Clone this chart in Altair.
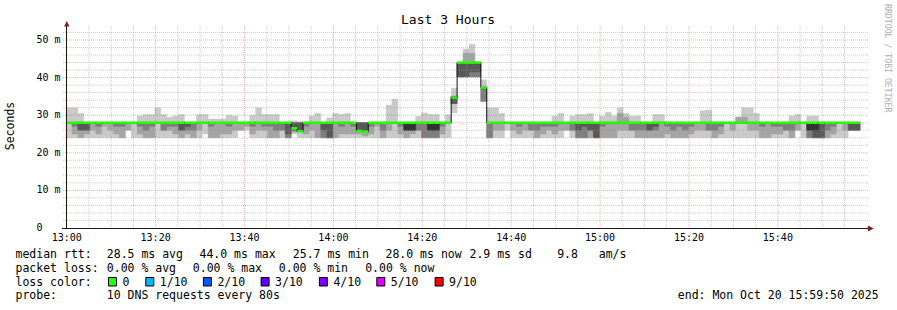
import altair as alt
import pandas as pd

FONT = "DejaVu Sans Mono"

# ---------------- data (ms) ----------------
# 10 sorted ping times per 80 s step, grouped by 20-minute block
seg_1300 = [
    (24, 28, 28, 28, 28, 28, 28, 28, 28, 32), (24, 25, 27, 28, 28, 28, 28, 28, 28, 32),
    (24, 24, 26, 26, 28, 28, 28, 28, 28, 30.5), (24, 25, 26, 26, 28, 28, 28, 28, 28, 28),
    (24, 26, 28, 28, 28, 28, 28, 28, 28, 28), (24, 25, 27, 28, 28, 28, 28, 28, 28, 28),
    (24, 27, 28, 28, 28, 28, 28, 28, 28, 28), (24, 26, 28, 28, 28, 28, 28, 28, 28, 28),
    (24, 25, 27, 28, 28, 28, 28, 28, 28, 28), (24, 24, 27, 28, 28, 28, 28, 28, 28, 28),
    (26, 26, 28, 28, 28, 28, 28, 28, 28, 28), (24, 28, 28, 28, 28, 28, 28, 28, 28, 28),
    (24, 25, 27, 28, 28, 28, 28, 28, 28, 29.8), (24, 24, 26, 28, 28, 28, 28, 28, 28, 30.2),
    (24, 24, 27, 28, 28, 28, 28, 28, 28, 30.2),
]
seg_1320 = [
    (24, 28, 28, 28, 28, 28, 28, 28, 28, 32), (24, 26, 26, 28, 28, 28, 28, 28, 28, 30.2),
    (24, 26, 27, 28, 28, 28, 28, 28, 28, 29.5), (24, 25, 27, 28, 28, 28, 28, 28, 28, 29.8),
    (24, 24, 26, 26, 28, 28, 28, 28, 28, 30.2), (24, 25, 26, 27, 28, 28, 28, 28, 28, 28),
    (24, 24, 26, 28, 28, 28, 28, 28, 28, 28), (24, 26, 28, 28, 28, 28, 28, 28, 28, 30.2),
    (25, 28, 28, 28, 28, 28, 28, 28, 28, 30.2), (24, 24, 27, 28, 28, 28, 28, 28, 28, 29),
    (24, 24, 28, 28, 28, 28, 28, 28, 28, 29), (24, 25, 28, 28, 28, 28, 28, 28, 28, 29),
    (24, 25, 27, 28, 28, 28, 28, 28, 28, 30), (24, 26, 28, 28, 28, 28, 28, 28, 28, 29.8),
    (26, 26, 28, 28, 28, 28, 28, 28, 28, 28),
]
seg_1340 = [
    (26, 27, 28, 28, 28, 28, 28, 28, 28, 28), (24, 25, 27, 28, 28, 28, 28, 28, 28, 30),
    (24, 26, 28, 28, 28, 28, 28, 28, 28, 32), (24, 26, 27, 28, 28, 28, 28, 28, 28, 30.2),
    (24, 24, 27, 28, 28, 28, 28, 28, 28, 30.2), (24, 24, 26, 28, 28, 28, 28, 28, 28, 30.2),
    (24, 26, 26, 28, 28, 28, 28, 28, 28, 28), (24, 24, 24, 25, 28, 28, 28, 28, 28, 28),
    (25, 25.5, 26, 26, 26.5, 26.5, 28, 28, 28, 28.5), (24, 25.7, 25.7, 25.7, 25.7, 25.7, 28, 28, 28, 28.3),
    (24, 25, 27, 28, 28, 28, 28, 28, 28, 28), (24, 26, 28, 28, 28, 28, 28, 28, 28, 29.8),
    (24, 24, 28, 28, 28, 28, 28, 28, 28, 30.5), (24, 24, 24, 26, 28, 28, 28, 28, 28, 28),
    (24, 24, 24, 24, 28, 28, 28, 28, 28, 29.3),
]
seg_1400 = [
    (24, 24, 28, 28, 28, 28, 28, 28, 28, 30.5), (24, 25, 27, 28, 28, 28, 28, 28, 28, 30.2),
    (24, 25, 28, 28, 28, 28, 28, 28, 28, 30.5), (24, 25, 27, 28, 28, 28, 28, 28, 28, 28),
    (24, 25, 25.8, 25.8, 25.8, 25.8, 28, 28, 28, 28), (24, 24.5, 25.6, 25.6, 25.6, 25.6, 28, 28, 28, 28),
    (24, 25, 27, 28, 28, 28, 28, 28, 28, 28), (24, 27, 28, 28, 28, 28, 28, 28, 28, 28),
    (24, 24, 26, 28, 28, 28, 28, 28, 28, 28), (24, 26, 28, 28, 28, 28, 28, 28, 28, 32.7),
    (24, 28, 28, 28, 28, 28, 28, 28, 28, 34.3), (24, 25, 27, 28, 28, 28, 28, 28, 28, 28),
    (24, 24, 26, 26, 26, 28, 28, 28, 28, 28), (24, 25, 26, 26, 26, 28, 28, 28, 28, 28),
    (24, 26, 26, 28, 28, 28, 28, 28, 28, 29.7),
]
seg_1420 = [
    (24, 24, 24, 28, 28, 28, 28, 28, 28, 30.6), (24, 24, 24, 26, 26, 28, 28, 28, 28, 30.2),
    (24, 24, 24, 26, 26, 28, 28, 28, 28, 30.2), (24, 25, 27, 28, 28, 28, 28, 28, 28, 28),
    (24, 28, 28, 28, 28, 28, 28, 28, 28, 30.1), (30.6, 33.1, 33.1, 33.1, 34.5, 34.9, 35, 35, 35, 37.2),
    (40.2, 40.2, 40.2, 40.2, 44, 44, 44, 44, 44, 44), (40.2, 40.2, 40.2, 40.2, 44, 44, 44, 44, 46.5, 47.6),
    (40.2, 40.2, 40.2, 41.5, 44, 44, 44, 44, 46.5, 48.9), (40.2, 40.2, 40.2, 41.5, 44, 44, 44, 44, 44, 44),
    (33.7, 33.7, 33.7, 37.4, 37.4, 37.4, 37.4, 37.4, 37.4, 39.4), (24, 24, 24, 28, 28, 28, 28, 28, 28, 32),
    (24, 26, 28, 28, 28, 28, 28, 28, 28, 32), (24, 26, 28, 28, 28, 28, 28, 28, 28, 30.5),
    (26, 28, 28, 28, 28, 28, 28, 28, 28, 28),
]
seg_1440 = [
    (24, 26, 28, 28, 28, 28, 28, 28, 28, 28), (24, 25, 27, 28, 28, 28, 28, 28, 28, 28),
    (24, 26, 28, 28, 28, 28, 28, 28, 28, 28), (24, 26, 26, 28, 28, 28, 28, 28, 28, 28),
    (24, 24, 26, 28, 28, 28, 28, 28, 28, 28), (24, 25, 27, 28, 28, 28, 28, 28, 28, 28),
    (24, 26, 27, 28, 28, 28, 28, 28, 28, 28), (24, 25, 27, 28, 28, 28, 28, 28, 28, 29.8),
    (24, 26, 28, 28, 28, 28, 28, 28, 28, 30.5), (26, 26, 28, 28, 28, 28, 28, 28, 28, 28),
    (24, 26, 26, 28, 28, 28, 28, 28, 28, 29.8), (24, 24, 24, 26, 28, 28, 28, 28, 28, 30.2),
    (24, 24, 24, 27, 28, 28, 28, 28, 28, 30.2), (24, 24, 26, 26, 28, 28, 28, 28, 28, 30.5),
    (24, 24, 24, 24, 28, 28, 28, 28, 28, 28),
]
seg_1500 = [
    (24, 24, 27, 28, 28, 28, 28, 28, 28, 29.8), (24, 24, 28, 28, 28, 28, 28, 28, 28, 30.8),
    (24, 24, 28, 28, 28, 28, 28, 28, 28, 29.8), (24, 26, 28, 28, 28, 28, 28, 28, 30.5, 32),
    (24, 26, 28, 28, 28, 28, 28, 28, 29.5, 30.5), (24, 26, 26, 28, 28, 28, 28, 28, 28, 29.8),
    (24, 24, 26, 28, 28, 28, 28, 28, 28, 29.8), (24, 24, 26, 28, 28, 28, 28, 28, 28, 28),
    (24, 24, 26, 26, 28, 28, 28, 28, 28, 28), (24, 24, 26, 27, 28, 28, 28, 28, 28, 30.2),
    (24, 24, 28, 28, 28, 28, 28, 28, 28, 30.2), (24, 25, 27, 28, 28, 28, 28, 28, 28, 28),
    (24, 24, 26, 28, 28, 28, 28, 28, 28, 28), (24, 24, 27, 28, 28, 28, 28, 28, 28, 28),
    (24, 24, 26, 28, 28, 28, 28, 28, 28, 28),
]
seg_1520 = [
    (24, 25, 27, 28, 28, 28, 28, 28, 28, 28), (24, 26, 28, 28, 28, 28, 28, 28, 28, 28),
    (24, 26, 28, 28, 28, 28, 28, 28, 28, 31.2), (24, 26, 26, 28, 28, 28, 28, 28, 28, 31.4),
    (24, 24, 26, 28, 28, 28, 28, 28, 28, 28), (24, 25, 27, 28, 28, 28, 28, 28, 28, 28),
    (24, 28, 28, 28, 28, 28, 28, 28, 28, 28), (24, 26, 28, 28, 28, 28, 28, 28, 28, 28),
    (24, 28, 28, 28, 28, 28, 28, 28, 29.5, 29.5), (24, 28, 28, 28, 28, 28, 28, 28, 29.5, 32),
    (24, 26, 28, 28, 28, 28, 28, 28, 28, 32), (24, 26, 28, 28, 28, 28, 28, 28, 28, 30.5),
    (24, 24, 27, 28, 28, 28, 28, 28, 28, 28), (24, 24, 28, 28, 28, 28, 28, 28, 28, 28),
    (24, 25, 27, 28, 28, 28, 28, 28, 28, 28),
]
seg_1540 = [
    (24, 25, 27, 28, 28, 28, 28, 28, 28, 28), (24, 26, 26, 28, 28, 28, 28, 28, 28, 28),
    (24, 24, 26, 28, 28, 28, 28, 28, 28, 29.8), (26, 26, 28, 28, 28, 28, 28, 28, 28, 30.2),
    (24, 28, 28, 28, 28, 28, 28, 28, 28, 28), (24, 24, 24, 26, 26, 28, 28, 28, 28, 29.8),
    (24, 24, 24, 24, 26, 28, 28, 28, 28, 29.8), (24, 24, 24, 24, 28, 28, 28, 28, 28, 28),
    (24, 24, 26, 28, 28, 28, 28, 28, 28, 28), (24, 25, 27, 28, 28, 28, 28, 28, 28, 28),
    (24, 28, 28, 28, 28, 28, 28, 28, 28, 28), (24, 26, 28, 28, 28, 28, 28, 28, 28, 28),
    (26, 26, 26, 26, 28, 28, 28, 28, 28, 28), (26, 26, 26, 26, 28, 28, 28, 28, 28, 28),
]

# median rtt per step (ms)
med_1300 = [28, 28, 28, 28, 28, 28, 28, 28, 28, 28, 28, 28, 28, 28, 28]
med_1320 = [28, 28, 28, 28, 28, 28, 28, 28, 28, 28, 28, 28, 28, 28, 28]
med_1340 = [28, 28, 28, 28, 28, 28, 28, 28, 26.5, 25.7, 28, 28, 28, 28, 28]
med_1400 = [28, 28, 28, 28, 25.8, 25.6, 28, 28, 28, 28, 28, 28, 28, 28, 28]
med_1420 = [28, 28, 28, 28, 28, 34.7, 44.0, 44.0, 44.0, 44.0, 37.4, 28, 28, 28, 28]
med_1440 = [28, 28, 28, 28, 28, 28, 28, 28, 28, 28, 28, 28, 28, 28, 28]
med_1500 = [28, 28, 28, 28, 28, 28, 28, 28, 28, 28, 28, 28, 28, 28, 28]
med_1520 = [28, 28, 28, 28, 28, 28, 28, 28, 28, 28, 28, 28, 28, 28, 28]
med_1540 = [28, 28, 28, 28, 28, 28, 28, 28, 28, 28, 28, 28, 28, 28]

x_tick_values = [0, 20, 40, 60, 80, 100, 120, 140, 160]
x_tick_labels = ["13:00", "13:20", "13:40", "14:00", "14:20", "14:40", "15:00", "15:20", "15:40"]
y_tick_values = [0, 10, 20, 30, 40, 50]
y_tick_labels = ["0", "10 m", "20 m", "30 m", "40 m", "50 m"]

smoke_greys = ["#cacaca", "#a4a4a4", "#7e7e7e", "#585858", "#323232"]
loss_colors = ["#26ff00", "#00b8ff", "#0059ff", "#5e00ff", "#7e00ff", "#dd00ff", "#ff0000"]
loss_labels = ["0", "1/10", "2/10", "3/10", "4/10", "5/10", "9/10"]

rtt_line = [("median rtt:", 16), ("28.5 ms avg", 107.3), ("44.0 ms max", 200), ("25.7 ms min", 293.3),
            ("28.0 ms now", 386), ("2.9 ms sd", 470), ("9.8   am/s", 557.7)]
loss_line = [("packet loss:", 16), ("0.00 % avg", 107.3), ("0.00 % max", 193.3),
             ("0.00 % min", 279.3), ("0.00 % now", 365.7)]
probe_line = [("probe:", 16), ("10 DNS requests every 80s", 107.3),
              ("end: Mon Oct 20 15:59:50 2025", 678.3)]

# ---------------- layout ----------------
W, H = 800, 200
PL, PT = 66, 28
STEP = 80 / 60.0            # minutes per step
T0 = -10 / 60.0             # 12:59:50 relative to 13:00
T1 = T0 + 180
YMAX = 53.19

pings = seg_1300 + seg_1320 + seg_1340 + seg_1400 + seg_1420 + seg_1440 + seg_1500 + seg_1520 + seg_1540
median = med_1300 + med_1320 + med_1340 + med_1400 + med_1420 + med_1440 + med_1500 + med_1520 + med_1540

rows = []
for i, p in enumerate(pings):
    a = T0 + i * STEP
    for k in range(5):
        rows.append({"t0": a, "t1": a + STEP, "band": k, "lo": p[k], "hi": p[9 - k]})
smoke_df = pd.DataFrame(rows)

med_df = pd.DataFrame({"t0": [T0 + i * STEP for i in range(len(median))],
                       "t1": [T0 + (i + 1) * STEP for i in range(len(median))],
                       "m": median})
step_df = pd.DataFrame({"t": list(med_df["t0"]) + [med_df["t1"].iloc[-1]],
                        "m": median + [median[-1]]})

xs = alt.Scale(domain=[T0, T1], nice=False, zero=False)
ys = alt.Scale(domain=[0, YMAX], nice=False, zero=False)

layers = []
for k in range(5):
    layers.append(
        alt.Chart(smoke_df).transform_filter(
            (alt.datum.band == k) & (alt.datum.hi > alt.datum.lo)
        ).mark_rect(color=smoke_greys[k], stroke=smoke_greys[k], strokeWidth=0.4).encode(
            x=alt.X("t0:Q", scale=xs, axis=None), x2="t1:Q",
            y=alt.Y("lo:Q", scale=ys, axis=None), y2="hi:Q")
    )

# grid
minor_y = [v for v in range(2, 53, 2) if v % 10]
major_y = [10, 20, 30, 40, 50]
minor_x = [v for v in range(5, 180, 5) if v % 20]
major_x = [0, 20, 40, 60, 80, 100, 120, 140, 160]
GRID = "#9a9a9a"
MGRID = "#e05050"
layers.append(alt.Chart(pd.DataFrame({"v": minor_y})).mark_rule(
    color=GRID, strokeDash=[1, 1], strokeWidth=1, opacity=0.5).encode(
    y=alt.Y("v:Q", scale=ys, axis=None), x=alt.value(-3), x2=alt.value(W + 2)))
layers.append(alt.Chart(pd.DataFrame({"v": minor_x})).mark_rule(
    color=GRID, strokeDash=[1, 1], strokeWidth=1, opacity=0.5).encode(
    x=alt.X("v:Q", scale=xs, axis=None), y=alt.value(-2), y2=alt.value(H)))
layers.append(alt.Chart(pd.DataFrame({"v": major_y})).mark_rule(
    color=MGRID, strokeDash=[1, 1], strokeWidth=1, opacity=0.45).encode(
    y=alt.Y("v:Q", scale=ys, axis=None), x=alt.value(-3), x2=alt.value(W + 2)))
layers.append(alt.Chart(pd.DataFrame({"v": major_x})).mark_rule(
    color=MGRID, strokeDash=[1, 1], strokeWidth=1, opacity=0.45).encode(
    x=alt.X("v:Q", scale=xs, axis=None), y=alt.value(-2), y2=alt.value(H)))

# median: dark step line + loss-coloured bar
layers.append(alt.Chart(step_df).mark_line(interpolate="step-after", color="#111111", strokeWidth=1).encode(
    x=alt.X("t:Q", scale=xs, axis=None), y=alt.Y("m:Q", scale=ys, axis=None)))
layers.append(alt.Chart(med_df).mark_rect(color=loss_colors[0], yOffset=-1.3, y2Offset=1.3).encode(
    x=alt.X("t0:Q", scale=xs, axis=None), x2="t1:Q",
    y=alt.Y("m:Q", scale=ys, axis=None), y2="m:Q"))

one = pd.DataFrame({"a": [0]})
# axis lines
layers.append(alt.Chart(one).mark_rule(color="#1a1a1a", strokeWidth=1).encode(
    x=alt.value(-4), x2=alt.value(W + 2), y=alt.value(H + 0.5)))
layers.append(alt.Chart(one).mark_rule(color="#2a1414", strokeWidth=1).encode(
    x=alt.value(0.5), y=alt.value(-2), y2=alt.value(H + 1)))
# arrows
layers.append(alt.Chart(one).mark_point(shape="M-1,-1L1,0L-1,1Z", filled=True, size=36,
                                        color="#7f1f1f", opacity=1).encode(
    x=alt.value(870.8 - PL), y=alt.value(228.5 - PT)))
layers.append(alt.Chart(one).mark_point(shape="M-1,1L0,-1L1,1Z", filled=True, size=30,
                                        color="#7f1f1f", opacity=1).encode(
    x=alt.value(66.8 - PL), y=alt.value(23.8 - PT)))

# tick labels, positioned through the scales; y labels laid out in a fixed 4-char column
y_label_text = [(lab if " " in lab else " " + lab).replace(" ", "\u00a0") for lab in y_tick_labels]
layers.append(alt.Chart(pd.DataFrame({"v": x_tick_values, "lab": x_tick_labels})).mark_text(
    font=FONT, fontSize=10, align="center", baseline="alphabetic", color="#000").encode(
    x=alt.X("v:Q", scale=xs, axis=None), y=alt.value(240.8 - PT), text="lab:N"))
layers.append(alt.Chart(pd.DataFrame({"v": y_tick_values, "lab": y_label_text})).mark_text(
    font=FONT, fontSize=10, align="left", baseline="middle", color="#000").encode(
    y=alt.Y("v:Q", scale=ys, axis=None), x=alt.value(36.4 - PL), text="lab:N"))


def txt(s, x, y, size=11.5, align="left", angle=0, color="#000", baseline="alphabetic"):
    return alt.Chart(pd.DataFrame({"s": [s.replace(" ", "\u00a0")]})).mark_text(
        align=align, baseline=baseline, font=FONT, fontSize=size, angle=angle, color=color).encode(
        text="s:N", x=alt.value(x - PL), y=alt.value(y - PT))


layers.append(txt("Last 3 Hours", 448, 24, size=13, align="center"))
layers.append(txt("Seconds", 11, 126, size=11.5, align="center", angle=270, baseline="middle"))
layers.append(txt("RRDTOOL / TOBI OETIKER", 887, 4, size=8.2, align="left", angle=90,
                  baseline="middle", color="#b0b0b0"))

for s, x in rtt_line:
    layers.append(txt(s, x - 0.5, 258.3))
for s, x in loss_line:
    layers.append(txt(s, x - 0.5, 271.8))
layers.append(txt("loss color:", 15.5, 285.6))
sq_x = [108.5, 145.8, 203.4, 261.1, 319.4, 376.8, 435.1]
for c, lab, x in zip(loss_colors, loss_labels, sq_x):
    layers.append(alt.Chart(one).mark_rect(fill=c, stroke="#000", strokeWidth=1).encode(
        x=alt.value(x - PL), x2=alt.value(x + 8 - PL), y=alt.value(277.5 - PT), y2=alt.value(286 - PT)))
    layers.append(txt(lab, x + 14, 285.6))
for s, x in probe_line:
    layers.append(txt(s, x - 0.5, 299.3))

chart = alt.layer(*layers).properties(
    width=W, height=H,
    padding={"left": PL, "top": PT, "right": 897 - PL - W, "bottom": 310 - PT - H},
    autosize=alt.AutoSizeParams(type="none"),
    background="white",
).configure_view(stroke=None)

chart.save("out.html", embed_options={"renderer": "svg", "actions": False})
